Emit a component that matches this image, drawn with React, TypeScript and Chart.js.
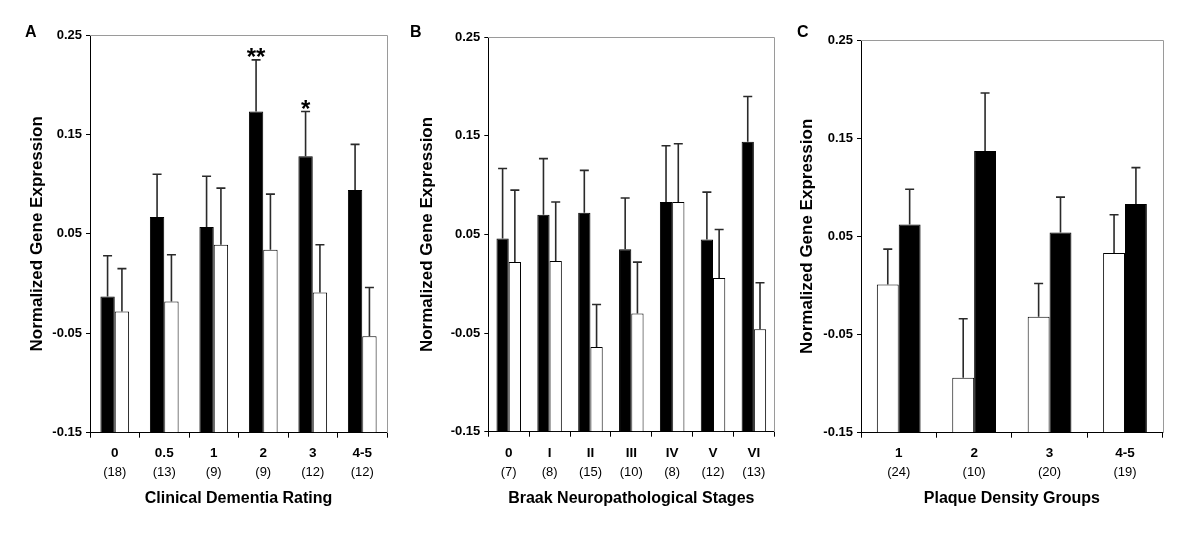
import React, { useEffect, useRef } from 'react';
import { Chart, registerables } from 'chart.js';

Chart.register(...registerables);

const FONT = '"Liberation Sans", Arial, Helvetica, sans-serif';

// ---- shared axis data ----
const yMin = -0.15;
const yMax = 0.25;
const yTicks = [-0.15, -0.05, 0.05, 0.15, 0.25];
const yTitle = 'Normalized Gene Expression';

// ---- Panel A: Clinical Dementia Rating ----
const cdrCategories = ['0', '0.5', '1', '2', '3', '4-5'];
const cdrCounts = ['(18)', '(13)', '(9)', '(9)', '(12)', '(12)'];
const cdrBlack = [-0.013, 0.067, 0.057, 0.173, 0.128, 0.094];
const cdrBlackErr = [0.028, 0.110, 0.108, 0.225, 0.173, 0.140];
const cdrWhite = [-0.028, -0.018, 0.039, 0.034, -0.009, -0.053];
const cdrWhiteErr = [0.015, 0.029, 0.096, 0.090, 0.039, -0.004];
const cdrSignif = ['', '', '', '**', '*', ''];

// ---- Panel B: Braak stages ----
const braakCategories = ['0', 'I', 'II', 'III', 'IV', 'V', 'VI'];
const braakCounts = ['(7)', '(8)', '(15)', '(10)', '(8)', '(12)', '(13)'];
const braakBlack = [0.046, 0.070, 0.072, 0.035, 0.083, 0.045, 0.144];
const braakBlackErr = [0.117, 0.127, 0.115, 0.087, 0.140, 0.093, 0.190];
const braakWhite = [0.022, 0.023, -0.064, -0.030, 0.083, 0.006, -0.046];
const braakWhiteErr = [0.095, 0.083, -0.021, 0.022, 0.142, 0.055, 0.001];

// ---- Panel C: Plaque density groups ----
const plaqueCategories = ['1', '2', '3', '4-5'];
const plaqueCounts = ['(24)', '(10)', '(20)', '(19)'];
const plaqueWhite = [0.001, -0.094, -0.032, 0.033];
const plaqueWhiteErr = [0.037, -0.034, 0.002, 0.072];
const plaqueBlack = [0.062, 0.137, 0.054, 0.083];
const plaqueBlackErr = [0.098, 0.196, 0.090, 0.120];

type Series = { name: string; values: number[]; errors: number[]; fill: string; signif?: string[] };
type PanelDef = {
  letter: string;
  letterX: number;
  left: number;
  titleX: number;
  plotL: number;
  plotR: number;
  plotT: number;
  plotB: number;
  catPct: number;
  categories: string[];
  counts: string[];
  xTitle: string;
  series: Series[];
};

const panels: PanelDef[] = [
  {
    letter: 'A', letterX: 25, left: 0, titleX: 37.8, plotL: 90, plotR: 387, plotT: 35, plotB: 432.7, catPct: 0.58,
    categories: cdrCategories, counts: cdrCounts, xTitle: 'Clinical Dementia Rating',
    series: [
      { name: 'Filled', values: cdrBlack, errors: cdrBlackErr, fill: '#000000', signif: cdrSignif },
      { name: 'Open', values: cdrWhite, errors: cdrWhiteErr, fill: '#ffffff' },
    ],
  },
  {
    letter: 'B', letterX: 20, left: 390, titleX: 37, plotL: 98.3, plotR: 384.3, plotT: 37.3, plotB: 431.7, catPct: 0.6,
    categories: braakCategories, counts: braakCounts, xTitle: 'Braak Neuropathological Stages',
    series: [
      { name: 'Filled', values: braakBlack, errors: braakBlackErr, fill: '#000000' },
      { name: 'Open', values: braakWhite, errors: braakWhiteErr, fill: '#ffffff' },
    ],
  },
  {
    letter: 'C', letterX: 7, left: 790, titleX: 17.5, plotL: 71, plotR: 372.7, plotT: 40, plotB: 432.7, catPct: 0.58,
    categories: plaqueCategories, counts: plaqueCounts, xTitle: 'Plaque Density Groups',
    series: [
      { name: 'Open', values: plaqueWhite, errors: plaqueWhiteErr, fill: '#ffffff' },
      { name: 'Filled', values: plaqueBlack, errors: plaqueBlackErr, fill: '#000000' },
    ],
  },
];

const CANVAS_W = 400;
const CANVAS_H = 544;

function buildConfig(p: PanelDef): any {
  const yTitleFont = 17;
  const padLeft = p.titleX - (yTitleFont * 1.2) / 2;
  const bottomEdge = 507.9;
  const x2Top = 460.7;
  const H1 = x2Top - p.plotB;
  const H2 = bottomEdge - x2Top;
  const xTickLen = 5;
  const xFont = 13.5;
  const xPad = 453.5 - (xFont * 1.2) / 2 - xTickLen - p.plotB;
  const x2Pad = 472.8 - 7.8 - x2Top;
  const yWidth = p.plotL - padLeft;

  const errorBars = {
    id: 'errorBars',
    afterDatasetsDraw(chart: any) {
      const { ctx } = chart;
      const yScale = chart.scales.y;
      ctx.save();
      ctx.strokeStyle = '#2a2a2a';
      ctx.lineWidth = 1.6;
      p.series.forEach((s, di) => {
        const meta = chart.getDatasetMeta(di);
        meta.data.forEach((el: any, i: number) => {
          const x = el.x;
          const yTop = yScale.getPixelForValue(s.errors[i]);
          const yBar = yScale.getPixelForValue(s.values[i]);
          ctx.beginPath();
          ctx.moveTo(x, yBar);
          ctx.lineTo(x, yTop);
          ctx.moveTo(x - 4.5, yTop);
          ctx.lineTo(x + 4.5, yTop);
          ctx.stroke();
        });
      });
      ctx.restore();
    },
  };

  const signif = {
    id: 'signif',
    afterDatasetsDraw(chart: any) {
      const { ctx } = chart;
      const yScale = chart.scales.y;
      ctx.save();
      ctx.fillStyle = '#000';
      ctx.font = `bold 24px ${FONT}`;
      ctx.textAlign = 'center';
      ctx.textBaseline = 'alphabetic';
      p.series.forEach((s, di) => {
        if (!s.signif) return;
        const meta = chart.getDatasetMeta(di);
        meta.data.forEach((el: any, i: number) => {
          const t = s.signif![i];
          if (!t) return;
          const yTop = yScale.getPixelForValue(s.errors[i]);
          ctx.fillText(t, el.x, yTop + 5);
        });
      });
      ctx.restore();
    },
  };

  const frame = {
    id: 'frame',
    afterDraw(chart: any) {
      const { ctx, chartArea } = chart;
      const { left, right, top, bottom } = chartArea;
      ctx.save();
      ctx.strokeStyle = '#9a9a9a';
      ctx.lineWidth = 1;
      const t = Math.round(top) + 0.5;
      const r = Math.round(right) + 0.5;
      ctx.beginPath();
      ctx.moveTo(Math.round(left), t);
      ctx.lineTo(r, t);
      ctx.lineTo(r, Math.round(bottom));
      ctx.stroke();
      // panel letter
      ctx.fillStyle = '#000';
      ctx.font = `bold 16px ${FONT}`;
      ctx.textAlign = 'left';
      ctx.textBaseline = 'alphabetic';
      ctx.fillText(p.letter, p.letterX, 36.7);
      ctx.restore();
    },
  };

  return {
    type: 'bar',
    data: {
      labels: p.categories,
      datasets: p.series.map((s) => ({
        label: s.name,
        data: s.values,
        backgroundColor: s.fill,
        borderColor: '#000000',
        borderWidth: 1,
        base: yMin,
        xAxisID: 'x',
        yAxisID: 'y',
        categoryPercentage: p.catPct,
        barPercentage: 1,
      })),
    },
    options: {
      responsive: false,
      animation: false,
      devicePixelRatio: 1,
      layout: {
        padding: { left: padLeft, right: CANVAS_W - p.plotR, top: p.plotT, bottom: CANVAS_H - bottomEdge },
      },
      plugins: { legend: { display: false }, tooltip: { enabled: false } },
      scales: {
        x: {
          type: 'category',
          position: 'bottom',
          offset: true,
          grid: { display: true, drawOnChartArea: false, drawTicks: true, tickLength: xTickLen, color: '#000', offset: true },
          border: { display: true, color: '#000', width: 1 },
          ticks: { font: { family: FONT, size: xFont, weight: 'bold' }, color: '#000', padding: xPad, maxRotation: 0, autoSkip: false },
          afterFit: (s: any) => { s.height = H1; },
        },
        x2: {
          type: 'category',
          position: 'bottom',
          labels: p.counts,
          offset: true,
          grid: { display: false, drawTicks: false, drawOnChartArea: false },
          border: { display: false },
          ticks: { font: { family: FONT, size: 13, weight: 'normal' }, color: '#000', padding: x2Pad, maxRotation: 0, autoSkip: false },
          title: { display: true, text: p.xTitle, color: '#000', font: { family: FONT, size: 16, weight: 'bold' }, padding: { top: 0, bottom: 0 } },
          afterFit: (s: any) => { s.height = H2; },
        },
        y: {
          type: 'linear',
          position: 'left',
          min: yMin,
          max: yMax,
          afterBuildTicks: (s: any) => { s.ticks = yTicks.map((v) => ({ value: v })); },
          grid: { display: true, drawOnChartArea: false, drawTicks: true, tickLength: 4, color: '#000' },
          border: { display: true, color: '#000', width: 1 },
          ticks: {
            font: { family: FONT, size: 13, weight: 'bold' },
            color: '#000',
            padding: 4,
            autoSkip: false,
            callback: (v: any) => Number(v).toFixed(2),
          },
          title: { display: true, text: yTitle, color: '#000', font: { family: FONT, size: yTitleFont, weight: 'bold' }, padding: { top: 0, bottom: 0 } },
          afterFit: (s: any) => { s.width = yWidth; },
        },
      },
    },
    plugins: [errorBars, signif, frame],
  };
}

function PanelChart({ p }: { p: PanelDef }) {
  const ref = useRef<HTMLCanvasElement>(null);
  useEffect(() => {
    if (!ref.current) return;
    const chart = new Chart(ref.current, buildConfig(p));
    return () => chart.destroy();
  }, [p]);
  return (
    <canvas
      ref={ref}
      width={CANVAS_W}
      height={CANVAS_H}
      style={{ position: 'absolute', left: p.left, top: 0, width: CANVAS_W, height: CANVAS_H }}
    />
  );
}

export default function App() {
  return (
    <div style={{ position: 'fixed', left: 0, top: 0, width: 1200, height: 544, background: '#ffffff', overflow: 'hidden' }}>
      {panels.map((p) => (
        <PanelChart key={p.letter} p={p} />
      ))}
    </div>
  );
}
